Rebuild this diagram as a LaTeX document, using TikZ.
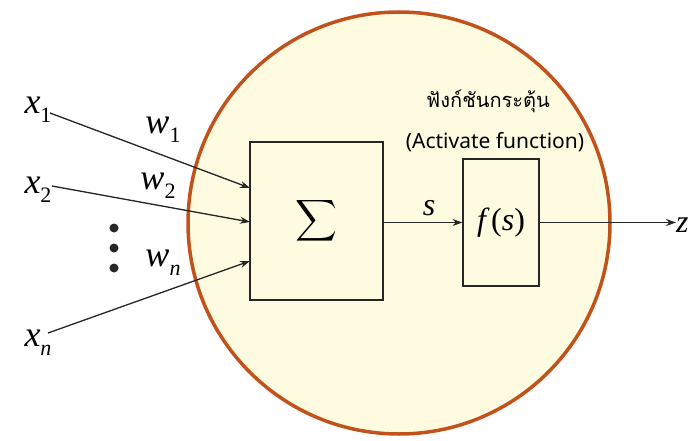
\documentclass[tikz,border=0pt]{standalone}
\usepackage{fontspec}
\usepackage{graphicx}
\setmainfont{Liberation Serif}
\newfontfamily\thaifont[Script=Thai]{Loma}
\newfontfamily\labelfont{Noto Sans}
\usetikzlibrary{arrows.meta}
\definecolor{cellfill}{HTML}{FFFBE0}
\definecolor{cellline}{HTML}{C2521C}
\newcommand{\var}[3]{{\fontsize{36}{36}\selectfont\itshape #1}\raisebox{-9pt}{\fontsize{22}{22}\selectfont #3#2}}
\begin{document}
\begin{tikzpicture}[x=1pt,y=-1pt,
  conn/.style={-{Stealth[length=10pt,width=7pt]}, line width=1.3pt, draw=black!85},
  boxnode/.style={draw=black!85, line width=1.1pt, inner sep=0pt}]
\useasboundingbox (0,0) rectangle (693,441);
\begin{scope}
\clip (0,0) rectangle (693,441);
\draw[fill=cellfill, draw=cellline, line width=3.5pt] (399,223) circle[radius=211];
\end{scope}
\node[boxnode, minimum width=133pt, minimum height=158pt] (sum) at (316.5,221) {\scalebox{2.9}{$\displaystyle\sum$}};
\node[boxnode, minimum width=76pt, minimum height=127pt] (act) at (501,222.5) {\fontsize{32}{32}\selectfont\itshape f\,\upshape(\itshape s\upshape)};
\node (x1) at (38,110) {\var{x}{1}{\upshape}};
\node (x2) at (38,190) {\var{x}{2}{\upshape}};
\node (xn) at (38,343) {\var{x}{n}{\itshape}};
\node (w1) at (163,130) {\var{w}{1}{\upshape}};
\node (w2) at (158,186) {\var{w}{2}{\upshape}};
\node (wn) at (163,263) {\var{w}{n}{\itshape}};
\coordinate (s1) at (250,188);
\coordinate (s2) at (250,222);
\coordinate (s3) at (250,261);
\draw[conn] (50,113) -- (s1);
\draw[conn] (52,186) -- (s2);
\draw[conn] (48,333) -- (s3);
\foreach \yy in {228,248,268} \fill[black!85] (114,\yy) circle[radius=4.5pt];
\node (s) at (429,208) {\fontsize{32}{32}\selectfont\itshape s};
\draw[conn] (sum.east |- act.west) -- (act.west);
\node[anchor=west, inner sep=0pt] (z) at (676,225) {\fontsize{32}{32}\selectfont\itshape z};
\draw[conn] (act.east) -- (act.east -| z.west);
\node (th) at (488,101) {\thaifont\fontsize{20}{20}\selectfont ฟังก์ชันกระตุ้น};
\node (en) at (495,142) {\labelfont\fontsize{21}{21}\selectfont (Activate function)};
\end{tikzpicture}
\end{document}
